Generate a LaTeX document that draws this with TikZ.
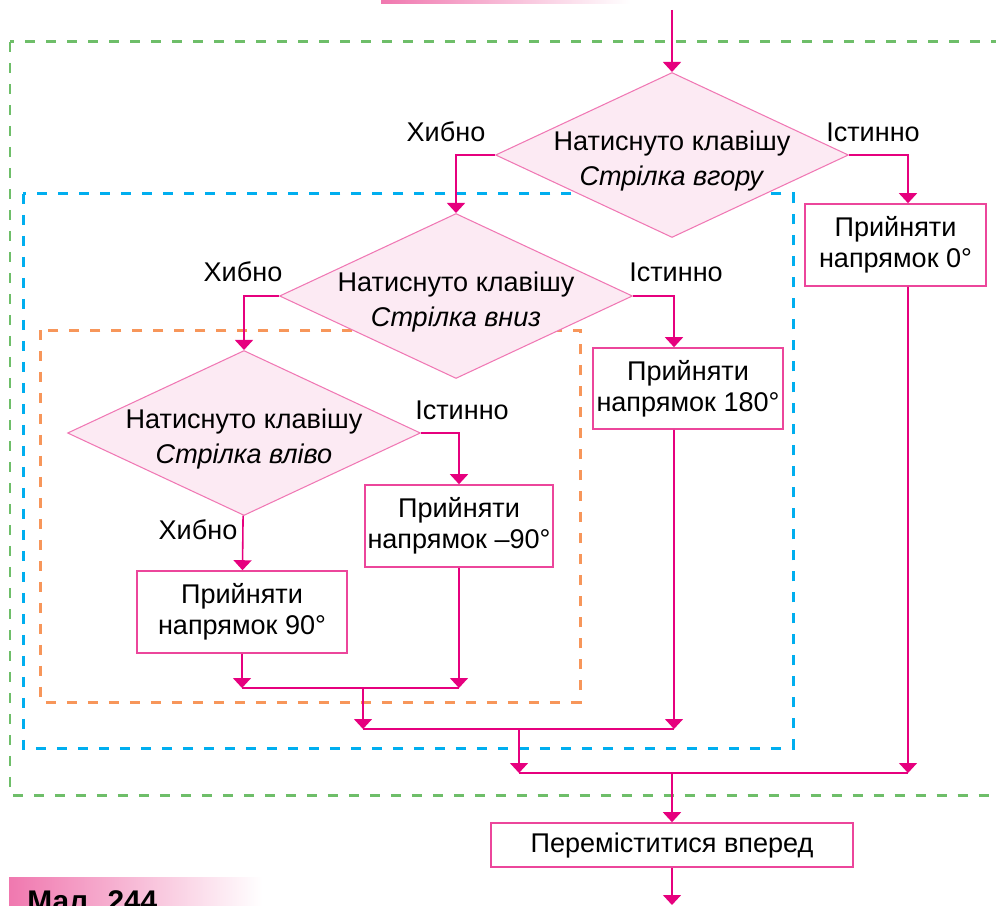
\documentclass[tikz,border=0pt]{standalone}
\usepackage{fontspec}
\setmainfont{Liberation Sans}
\usetikzlibrary{arrows.meta, positioning, shapes.geometric, calc}
\definecolor{flowmag}{RGB}{230,0,126}
\definecolor{actline}{RGB}{236,70,155}
\definecolor{condline}{RGB}{240,120,180}
\definecolor{condfill}{RGB}{252,234,243}
\definecolor{loopgreen}{RGB}{110,190,105}
\definecolor{loopblue}{RGB}{0,174,239}
\definecolor{looporange}{RGB}{247,150,90}
\definecolor{barpink}{RGB}{240,120,175}
\newcommand{\flowfont}{\fontsize{15.4}{20}\selectfont}
\newcommand{\actfont}{\fontsize{15.4}{17.6}\selectfont}
\newcommand{\dline}[1]{\raisebox{-0.12cm}[\height][\depth]{#1}}
\tikzset{
    condnode/.style={diamond, aspect=2.13, draw=condline, fill=condfill, line width=0.6pt, inner sep=-0.06cm, minimum width=7.06cm, minimum height=3.3cm, align=center, font=\flowfont},
    actnode/.style={rectangle, draw=actline, fill=white, line width=0.9pt, minimum height=1.64cm, inner sep=1pt, align=center, font=\actfont},
    yesno/.style={inner sep=1pt, font=\flowfont},
    flowline/.style={draw=flowmag, line width=0.9pt},
    loopframe/.style={line width=0.06cm, dash pattern=on 0.2cm off 0.22cm}
}

\begin{document}
\begin{tikzpicture}[x=0.02cm, y=-0.02cm, >={Triangle[length=0.2cm, width=0.36cm]}]
\useasboundingbox (0,0) rectangle (996,905);
% bars
\shade[left color=barpink, right color=white] (381,0) rectangle (630,4);
\shade[left color=barpink, right color=white] (9,877) rectangle (262,910);
\node[anchor=base west, inner sep=0pt, font=\fontsize{17}{17}\selectfont\bfseries] (cap) at (27,911) {Мал. 244};
% loops
\draw[loopframe, loopgreen] (10,42) rectangle (1012,795);
\draw[loopframe, loopblue] (23,194) rectangle (793,748);
\draw[loopframe, looporange] (40,330) rectangle (580,702);
% conditions
\node[condnode] (d1) at (672,155) {\dline{Натиснуто клавішу}\\\dline{\textit{Стрілка вгору}}};
\node[condnode] (d2) at (456,296) {\dline{Натиснуто клавішу}\\\dline{\textit{Стрілка вниз}}};
\node[condnode] (d3) at (244,433) {\dline{Натиснуто клавішу}\\\dline{\textit{Стрілка вліво}}};
% actions
\node[actnode, minimum width=3.62cm] (b0) at (895.5,245) {Прийняти\\напрямок 0°};
\node[actnode, minimum width=3.8cm, minimum height=1.62cm] (b180) at (688,388.5) {Прийняти\\напрямок 180°};
\node[actnode, minimum width=3.76cm] (bm90) at (459,526) {Прийняти\\напрямок –90°};
\node[actnode, minimum width=4.2cm] (b90) at (242,612) {Прийняти\\напрямок 90°};
\node[actnode, minimum width=7.24cm, minimum height=0.88cm] (bmove) at (672,845) {Переміститися вперед};
% labels
\node[yesno] (f1) at (446,132) {Хибно};
\node[yesno] (t1) at (873,132) {Істинно};
\node[yesno] (f2) at (243,272) {Хибно};
\node[yesno] (t2) at (676,272) {Істинно};
\node[yesno] (t3) at (462,410) {Істинно};
\node[yesno] (f3) at (198,530) {Хибно};
% joins
\coordinate (in) at (672,10);
\coordinate (j1w) at (242,688);
\coordinate (j1m) at (363,688);
\coordinate (j1e) at (459,688);
\coordinate (j2w) at (363,729);
\coordinate (j2m) at (519,729);
\coordinate (j2e) at (674,729);
\coordinate (j3w) at (519,773);
\coordinate (j3m) at (672,773);
\coordinate (j3e) at (908,773);
\coordinate (out) at (672,905);
% lines
\draw[flowline, ->] (in) -- (d1);
\draw[flowline, ->] (d1.west) -| (d2);
\draw[flowline, ->] (d1.east) -| ([xshift=0.25cm]b0.north);
\draw[flowline, ->] (d2.west) -| (d3);
\draw[flowline, ->] (d2.east) -| ([xshift=-0.28cm]b180.north);
\draw[flowline, ->] (d3.east) -| (bm90);
\draw[flowline, ->] (d3) -- (b90);
\draw[flowline, ->] (b90) -- (j1w);
\draw[flowline, ->] (bm90) -- (j1e);
\draw[flowline] (j1w) -- (j1e);
\draw[flowline, ->] (j1m) -- (j2w);
\draw[flowline, ->] ([xshift=-0.28cm]b180.south) -- (j2e);
\draw[flowline] (j2w) -- (j2e);
\draw[flowline, ->] (j2m) -- (j3w);
\draw[flowline, ->] ([xshift=0.25cm]b0.south) -- (j3e);
\draw[flowline] (j3w) -- (j3e);
\draw[flowline, ->] (j3m) -- (bmove);
\draw[flowline, ->] (bmove) -- (out);
\end{tikzpicture}
\end{document}
